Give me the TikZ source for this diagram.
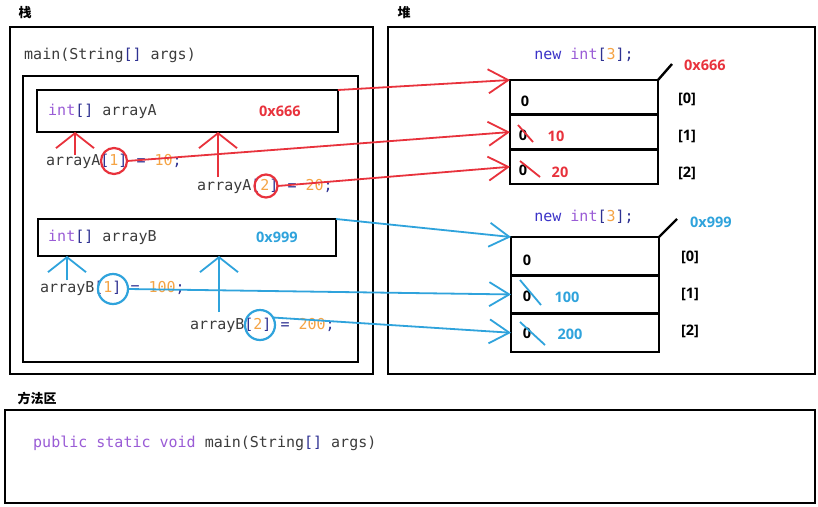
\documentclass[tikz,border=0pt]{standalone}
\usepackage{fontspec}
\setmonofont{DejaVu Sans Mono}
\setsansfont{Open Sans}
\newfontfamily\cjk{Noto Sans CJK SC}
\usetikzlibrary{arrows.meta}

\definecolor{refred}{HTML}{E8323C}
\definecolor{refblue}{HTML}{2FA3DC}
\definecolor{kwpurple}{HTML}{9A5CD6}
\definecolor{kwnew}{HTML}{3B33C8}
\definecolor{brk}{HTML}{2E3192}
\definecolor{numorange}{HTML}{F5A445}
\definecolor{codegray}{HTML}{3C3C3C}

\tikzset{
  frame/.style={draw=black, line width=2.8pt},
  title/.style={font=\cjk\bfseries\fontsize{13}{15}\selectfont, inner sep=0},
  code/.style={font=\ttfamily\fontsize{15}{18}\selectfont, text=codegray, inner sep=0, anchor=west},
  val/.style={font=\sffamily\bfseries\fontsize{14.5}{17}\selectfont, inner sep=0},
  varbox/.style={draw, line width=2.8pt, inner sep=0, outer sep=0},
  cell/.style={draw, line width=2.6pt, minimum width=148pt, inner sep=0, outer sep=0},
  ring/.style={draw, circle, line width=2.2pt, inner sep=0, outer sep=0},
  conn/.style={line width=1.8pt, -{Straight Barb[length=20pt,width=24pt]}},
  uparrow/.style={line width=1.8pt, -{Straight Barb[length=15pt,width=38pt]}},
  strike/.style={line width=1.8pt},
}

\newcommand{\cB}[1]{{\color{brk}#1}}
\newcommand{\cN}[1]{{\color{numorange}#1}}
\newcommand{\cK}[1]{{\color{kwpurple}#1}}

\begin{document}
\begin{tikzpicture}[x=1pt, y=-1pt]
  \fill[white] (0,0) rectangle (818,506);
  \useasboundingbox (0,0) rectangle (818,506);

  % ---------- stack ----------
  \node[title] (stacklbl) at (25,13) {栈};
  \draw[frame] (10,27) rectangle (373,374);
  \node[code] (mainsig) at (24,55) {main(String\cB{[]} args)};
  \draw[frame] (23,76) rectangle (358,362);

  % variable arrayA
  \node[varbox, minimum width=301pt, minimum height=42pt] (boxA) at (187.5,111) {};
  \node[code] (declA) at (48,111) {\cK{int}\cB{[]} arrayA};
  \node[val, text=refred, anchor=west] (addrA) at (259,111) {0x666};

  \node[code] (stA1) at (46,161) {arrayA\cB{[}\cN{1}\cB{]} \cB{=} \cN{10}\cB{;}};
  \node[code] (stA2) at (197,186) {arrayA\cB{[}\cN{2}\cB{]} \cB{=} \cN{20}\cB{;}};
  \node[ring, draw=refred, minimum size=26pt] (circA1) at (114,161) {};
  \node[ring, draw=refred, minimum size=23pt] (circA2) at (266,186) {};

  \coordinate (upA1) at (75,155);
  \coordinate (upA2) at (218,177);
  \draw[uparrow, refred] (upA1) -- (upA1 |- boxA.south);
  \draw[uparrow, refred] (upA2) -- (upA2 |- boxA.south);

  % variable arrayB
  \node[varbox, minimum width=298pt, minimum height=37pt] (boxB) at (187,237.5) {};
  \node[code] (declB) at (48,237) {\cK{int}\cB{[]} arrayB};
  \node[val, text=refblue, anchor=west] (addrB) at (256,237) {0x999};

  \node[code] (stB1) at (40,288) {arrayB\cB{[}\cN{1}\cB{]} \cB{=} \cN{100}\cB{;}};
  \node[code] (stB2) at (190,325) {arrayB\cB{[}\cN{2}\cB{]} \cB{=} \cN{200}\cB{;}};
  \node[ring, draw=refblue, minimum size=30pt] (circB1) at (113,289) {};
  \node[ring, draw=refblue, minimum size=30pt] (circB2) at (260,325) {};

  \coordinate (upB1) at (67,280);
  \coordinate (upB2) at (219,312);
  \draw[uparrow, refblue] (upB1) -- (upB1 |- boxB.south);
  \draw[uparrow, refblue] (upB2) -- (upB2 |- boxB.south);

  % ---------- heap ----------
  \node[title] (heaplbl) at (404,13) {堆};
  \draw[frame] (388,27) rectangle (815,374);

  % first array
  \node[code, anchor=center] (newA) at (584,55) {{\color{kwnew}new} \cK{int}\cB{[}\cN{3}\cB{];}};
  \node[cell, minimum height=34.7pt] (a0) at (584,97.35) {};
  \node[cell, minimum height=34.7pt] (a1) at (584,132.05) {};
  \node[cell, minimum height=34.7pt] (a2) at (584,166.75) {};
  \draw[line width=2.4pt] (a0.north east) -- ++(14,-16) coordinate (tagA);
  \node[val, text=refred, anchor=west] (hexA) at (684,65) {0x666};
  \node[val] (ia0) at (687,99) {[0]};
  \node[val] (ia1) at (687,136) {[1]};
  \node[val] (ia2) at (687,173) {[2]};
  \node[val] (va0) at (525,101) {0};
  \node[val] (va1) at (523,135) {0};
  \node[val] (va2) at (523,170) {0};
  \node[val, text=refred] (na1) at (556,136) {10};
  \node[val, text=refred] (na2) at (560,172) {20};
  \draw[strike, refred] (518,125) -- (533,142);
  \draw[strike, refred] (520,161) -- (540,177);

  % second array
  \node[code, anchor=center] (newB) at (584,217) {{\color{kwnew}new} \cK{int}\cB{[}\cN{3}\cB{];}};
  \node[cell, minimum height=38.3pt] (b0) at (585,256.15) {};
  \node[cell, minimum height=38.3pt] (b1) at (585,294.45) {};
  \node[cell, minimum height=38.3pt] (b2) at (585,332.75) {};
  \draw[line width=2.4pt] (b0.north east) -- ++(18,-18) coordinate (tagB);
  \node[val, text=refblue, anchor=west] (hexB) at (690,222) {0x999};
  \node[val] (ib0) at (690,257) {[0]};
  \node[val] (ib1) at (690,294) {[1]};
  \node[val] (ib2) at (690,331) {[2]};
  \node[val] (vb0) at (527,260) {0};
  \node[val] (vb1) at (527,296) {0};
  \node[val] (vb2) at (527,333) {0};
  \node[val, text=refblue] (nb1) at (567,297) {100};
  \node[val, text=refblue] (nb2) at (570,334) {200};
  \draw[strike, refblue] (520,280) -- (541,305);
  \draw[strike, refblue] (520,322) -- (545,345);

  % ---------- references ----------
  \draw[conn, refred] (boxA.north east) -- (a0.north west);
  \draw[conn, refred] (circA1.east) -- (a1.west);
  \draw[conn, refred] (circA2.east) -- (a2.west);
  \draw[conn, refblue] (boxB.north east) -- (b0.north west);
  \draw[conn, refblue] (circB1.east) -- (b1.west);
  \draw[conn, refblue] (circB2.30) -- (b2.west);

  % ---------- method area ----------
  \node[title] (methlbl) at (37,398) {方法区};
  \draw[frame] (5,410) rectangle (815,503);
  \node[code] (pubsig) at (33,443) {\cK{public static void} main(String\cB{[]} args)};
\end{tikzpicture}
\end{document}
